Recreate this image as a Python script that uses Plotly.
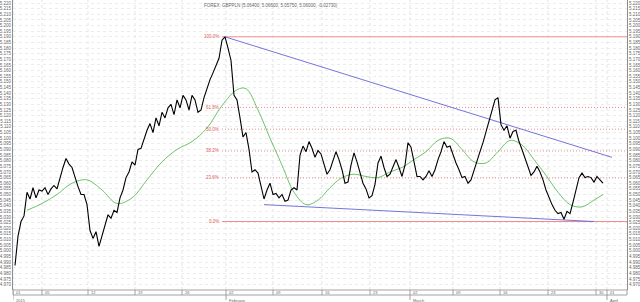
import plotly.graph_objects as go

# ---------------- data ----------------
price = [
    4.987, 5.013, 5.026, 5.031, 5.052, 5.046, 5.056, 5.047, 5.054, 5.053,
    5.056, 5.050, 5.055, 5.058, 5.055, 5.065, 5.074, 5.082, 5.077, 5.074,
    5.065, 5.057, 5.050, 5.050, 5.041, 5.018, 5.011, 5.017, 5.004, 5.014,
    5.023, 5.032, 5.029, 5.036, 5.034, 5.047, 5.054, 5.065, 5.070, 5.079,
    5.076, 5.090, 5.091, 5.100, 5.107, 5.113, 5.105, 5.118, 5.111, 5.123,
    5.118, 5.127, 5.130, 5.121, 5.134, 5.127, 5.138, 5.134, 5.125, 5.138,
    5.134, 5.123, 5.125, 5.136, 5.145, 5.152, 5.158, 5.165, 5.171, 5.187,
    5.190, 5.180, 5.169, 5.138, 5.134, 5.118, 5.101, 5.105, 5.090, 5.070,
    5.072, 5.069, 5.058, 5.046, 5.054, 5.060, 5.050, 5.051, 5.047, 5.050,
    5.044, 5.045, 5.054, 5.056, 5.054, 5.085, 5.093, 5.088, 5.097, 5.091,
    5.083, 5.089, 5.086, 5.078, 5.068, 5.072, 5.081, 5.088, 5.081, 5.072,
    5.060, 5.061, 5.076, 5.087, 5.079, 5.070, 5.060, 5.055, 5.047, 5.049,
    5.059, 5.078, 5.084, 5.074, 5.066, 5.068, 5.074, 5.081, 5.074, 5.066,
    5.076, 5.096, 5.092, 5.079, 5.066, 5.066, 5.063, 5.066, 5.071, 5.066,
    5.072, 5.081, 5.088, 5.097, 5.092, 5.093, 5.085, 5.078, 5.072, 5.065,
    5.066, 5.060, 5.063, 5.072, 5.079, 5.088, 5.096, 5.105, 5.114, 5.123,
    5.134, 5.136, 5.112, 5.107, 5.111, 5.100, 5.106, 5.107, 5.097, 5.090,
    5.082, 5.074, 5.067, 5.070, 5.075, 5.070, 5.063, 5.054, 5.047, 5.041,
    5.036, 5.033, 5.034, 5.028, 5.035, 5.033, 5.043, 5.054, 5.065, 5.069,
    5.065, 5.066, 5.065, 5.061, 5.066, 5.063, 5.060,
]
bars = list(range(len(price)))

ma_bars = [4, 9, 14, 19, 24, 29, 34, 39, 44, 49, 54, 59, 64, 69, 74, 77, 81, 85,
           89, 93, 97, 101, 105, 109, 113, 117, 121, 125, 129, 133, 137, 141,
           145, 149, 153, 157, 161, 165, 169, 173, 177, 181, 185, 189, 193, 196]
ma_vals = [5.036, 5.042, 5.050, 5.060, 5.063, 5.054, 5.042, 5.047, 5.063, 5.079,
           5.090, 5.097, 5.109, 5.129, 5.143, 5.144, 5.125, 5.100, 5.076, 5.052,
           5.041, 5.045, 5.056, 5.065, 5.068, 5.066, 5.065, 5.070, 5.074, 5.081,
           5.088, 5.098, 5.100, 5.090, 5.079, 5.078, 5.088, 5.098, 5.094, 5.081,
           5.067, 5.052, 5.041, 5.039, 5.045, 5.050]

fib_start = 69
fib_end = 204
fib_high = 5.190
fib_low = 5.026
fib_ratios = [1.0, 0.618, 0.5, 0.382, 0.236, 0.0]
fib_labels = ["100.0%", "61.8%", "50.0%", "38.2%", "23.6%", "0.0%"]

upper_trend_bars = [70, 199]
upper_trend_vals = [5.190, 5.083]
lower_trend_bars = [83, 193]
lower_trend_vals = [5.041, 5.026]

week_ticks = [-0.67, 9, 24.33, 40, 55.67, 70.33, 86, 102.33, 118.33, 131.67,
              146, 161.67, 177.67, 193.67, 197.33]
week_labels = ["01", "05", "12", "19", "26", "02", "09", "16", "23", "02",
               "09", "16", "23", "30", "01"]
month_ticks = [-0.67, 70.33, 131.67, 197.33]
month_labels = ["2015", "February", "March", "April"]

title_text = "FOREX: GBPPLN (5.06400, 5.06600, 5.05750, 5.06000, -0.02730)"

x_range = [-0.67, 204]
y_range = [4.9652, 5.2227]

# ---------------- figure ----------------
RED = "#ec8a8a"
RED_SOLID = "#f08c8c"
RED_TEXT = "#e05a5a"
BLUE = "#6464d8"
GREEN = "#46b446"
fig = go.Figure()

# fib lines
for r, lab in zip(fib_ratios, fib_labels):
    lvl = fib_low + r * (fib_high - fib_low)
    solid = r in (0.0, 1.0)
    fig.add_trace(go.Scatter(
        x=[fib_start, fib_end], y=[lvl, lvl], mode="lines",
        line=dict(color=RED_SOLID if solid else RED, width=1,
                  dash="solid" if solid else "1px,2px"),
        hoverinfo="skip", showlegend=False))
    fig.add_annotation(x=fib_start - 0.4, y=lvl, text=lab, showarrow=False,
                       xanchor="right", yanchor="middle",
                       font=dict(size=4.5, color=RED_TEXT, family="Liberation Sans"))

# trend lines
fig.add_trace(go.Scatter(x=upper_trend_bars, y=upper_trend_vals, mode="lines",
                         line=dict(color=BLUE, width=0.9), hoverinfo="skip",
                         showlegend=False))
fig.add_trace(go.Scatter(x=lower_trend_bars, y=lower_trend_vals, mode="lines",
                         line=dict(color=BLUE, width=0.9), hoverinfo="skip",
                         showlegend=False))

# moving average
fig.add_trace(go.Scatter(x=ma_bars, y=ma_vals, mode="lines",
                         line=dict(color=GREEN, width=0.8, shape="spline"),
                         showlegend=False))

# price
fig.add_trace(go.Scatter(x=bars, y=price, mode="lines",
                         line=dict(color="black", width=1.1),
                         showlegend=False))

# invisible trace for the right axis
fig.add_trace(go.Scatter(x=[bars[0]], y=[price[0]], yaxis="y2", mode="markers",
                         marker=dict(opacity=0), showlegend=False,
                         hoverinfo="skip"))

shapes = []
# vertical week gridlines
for t in week_ticks:
    shapes.append(dict(type="line", xref="x", yref="paper", x0=t, x1=t, y0=0, y1=1,
                       line=dict(color="#d8d8d8", width=0.7, dash="dot"), layer="below"))
# date strip
strip_h = 5 / 290
shapes.append(dict(type="rect", xref="paper", yref="paper", x0=0, x1=1,
                   y0=-strip_h, y1=0, line=dict(color="#8c8c8c", width=0.8),
                   fillcolor="white"))
for t in week_ticks:
    shapes.append(dict(type="line", xref="x", yref="paper", x0=t, x1=t,
                       y0=-strip_h, y1=0, line=dict(color="#8c8c8c", width=0.8)))
for t in month_ticks:
    shapes.append(dict(type="line", xref="x", yref="paper", x0=t, x1=t,
                       y0=-2 * strip_h, y1=-strip_h,
                       line=dict(color="#8c8c8c", width=0.8)))

for t, lab in zip(week_ticks, week_labels):
    fig.add_annotation(x=t + 0.4, y=-strip_h / 2, xref="x", yref="paper", text=lab,
                       showarrow=False, xanchor="left", yanchor="middle",
                       font=dict(size=4, color="#666666", family="Liberation Sans"))
for t, lab in zip(month_ticks, month_labels):
    fig.add_annotation(x=t + 0.4, y=-strip_h - 0.002, xref="x", yref="paper",
                       text=lab, showarrow=False, xanchor="left", yanchor="top",
                       font=dict(size=4, color="#666666", family="Liberation Sans"))

fig.add_annotation(x=0.42, y=0.995, xref="paper", yref="paper", text=title_text,
                   showarrow=False, xanchor="center", yanchor="top",
                   font=dict(size=4.5, color="#666666", family="Liberation Sans"))

axis_font = dict(size=4.5, color="#666666", family="Liberation Sans")
fig.update_layout(
    width=640, height=302,
    margin=dict(l=13, r=13, t=0, b=12, pad=0),
    paper_bgcolor="white", plot_bgcolor="white",
    shapes=shapes,
    xaxis=dict(range=x_range, showgrid=False, zeroline=False, showticklabels=False,
               ticks="", showline=False),
    yaxis=dict(range=y_range, dtick=0.005, tick0=5.0, tickformat=".3f",
               showgrid=True, gridcolor="#ececec", griddash="dot", gridwidth=0.5,
               zeroline=False, showline=True, linecolor="#8c8c8c", linewidth=1,
               ticks="", tickfont=axis_font, side="left"),
    yaxis2=dict(range=y_range, dtick=0.005, tick0=5.0, tickformat=".3f",
                overlaying="y", side="right", showgrid=False, zeroline=False,
                showline=True, linecolor="#8c8c8c", linewidth=1, ticks="",
                tickfont=axis_font),
)

fig.write_html("out.html")
